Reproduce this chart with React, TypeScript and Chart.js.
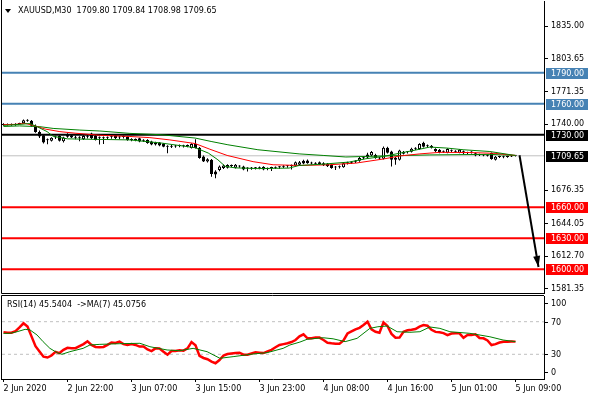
import React, { useEffect, useRef } from "react";
import { Chart, registerables } from "chart.js";

Chart.register(...registerables);

const FONT_FAMILY = '"DejaVu Sans", "Liberation Sans", sans-serif';

// ---------- DATA ----------
const headerText = "XAUUSD,M30  1709.80 1709.84 1708.98 1709.65";
const rsiHeaderText = "RSI(14) 45.5404  ->MA(7) 45.0756";

const timeLabels = ["2 Jun 2020", "2 Jun 22:00", "3 Jun 07:00", "3 Jun 15:00", "3 Jun 23:00", "4 Jun 08:00", "4 Jun 16:00", "5 Jun 01:00", "5 Jun 09:00"];
const timeTickBars = [0, 16, 32, 48, 64, 80, 96, 112, 128];

const priceTicks = [1835.0, 1803.65, 1771.35, 1740.0, 1676.35, 1644.05, 1612.7, 1581.35];

const levelValues = [1790, 1760, 1730, 1660, 1630, 1600];
const levelColors = ["#4682B4", "#4682B4", "#000000", "#FF0000", "#FF0000", "#FF0000"];
const currentPrice = 1709.65;

const openP = [
  1740.0, 1739.4, 1740.3, 1739.2, 1740.4, 1741.2, 1743.9, 1743.4, 1738.6, 1732.6,
  1729.6, 1724.6, 1724.3, 1727.3, 1729.0, 1723.6, 1730.6, 1729.6, 1727.4, 1727.2,
  1725.6, 1728.6, 1731.2, 1729.0, 1727.0, 1726.8, 1727.0, 1728.0, 1729.6, 1727.5,
  1728.0, 1728.0, 1725.0, 1725.4, 1726.6, 1724.5, 1725.0, 1723.5, 1722.5, 1722.5,
  1721.5, 1718.5, 1718.5, 1718.8, 1719.0, 1719.0, 1719.2, 1717.2, 1721.0, 1717.5,
  1709.0, 1704.2, 1705.8, 1694.5, 1696.0, 1697.8, 1698.0, 1700.0, 1698.0, 1699.5,
  1699.3, 1697.5, 1697.3, 1697.5, 1698.0, 1699.0, 1697.0, 1697.8, 1698.0, 1698.5,
  1699.0, 1699.5, 1700.0, 1700.3, 1701.0, 1704.8, 1705.0, 1702.5, 1702.0, 1703.5,
  1702.5, 1702.0, 1701.0, 1698.5, 1698.7, 1698.5, 1702.5, 1703.0, 1704.0, 1704.8,
  1707.5, 1711.0, 1710.0, 1710.5, 1707.0, 1706.8, 1717.4, 1713.8, 1707.7, 1705.8,
  1713.5, 1713.0, 1713.5, 1716.5, 1716.2, 1722.3, 1719.3, 1719.3, 1716.2, 1715.5,
  1713.5, 1712.6, 1714.5, 1713.8, 1712.6, 1714.0, 1712.5, 1713.0, 1712.0, 1710.5,
  1710.5, 1710.0, 1712.3, 1705.8, 1708.5, 1708.7, 1708.5, 1709.0, 1709.8
];
const highP = [
  1741.0, 1740.8, 1740.9, 1741.2, 1741.6, 1744.6, 1745.0, 1744.2, 1739.9, 1734.0,
  1730.2, 1726.4, 1727.6, 1728.9, 1729.6, 1728.1, 1731.4, 1730.4, 1728.9, 1728.6,
  1729.4, 1729.9, 1731.9, 1729.8, 1728.4, 1728.2, 1728.4, 1729.6, 1730.4, 1728.8,
  1729.2, 1728.6, 1726.6, 1726.4, 1727.2, 1725.6, 1725.6, 1724.2, 1723.2, 1723.0,
  1722.0, 1719.8, 1720.0, 1720.2, 1720.6, 1720.4, 1720.6, 1721.8, 1725.6, 1718.2,
  1710.0, 1707.4, 1706.6, 1695.6, 1700.2, 1701.2, 1701.6, 1701.2, 1701.8, 1700.6,
  1700.0, 1698.6, 1698.8, 1698.8, 1699.2, 1699.6, 1698.4, 1699.0, 1699.4, 1699.8,
  1700.4, 1700.8, 1701.2, 1704.2, 1704.6, 1705.8, 1706.0, 1704.0, 1703.4, 1704.2,
  1703.4, 1702.8, 1701.6, 1699.8, 1700.2, 1703.4, 1704.0, 1704.6, 1705.4, 1708.4,
  1709.0, 1712.6, 1714.2, 1711.6, 1708.6, 1718.6, 1718.4, 1714.6, 1708.6, 1715.6,
  1714.4, 1714.4, 1717.4, 1717.8, 1721.8, 1723.2, 1720.6, 1720.0, 1717.0, 1716.2,
  1714.8, 1717.0, 1715.8, 1715.0, 1716.2, 1714.8, 1713.6, 1714.0, 1712.8, 1711.6,
  1711.4, 1711.0, 1712.8, 1709.4, 1709.6, 1709.6, 1709.6, 1710.2, 1709.84
];
const lowP = [
  1738.6, 1738.9, 1738.7, 1738.8, 1739.8, 1740.8, 1742.6, 1737.8, 1731.8, 1726.9,
  1721.6, 1720.9, 1723.4, 1725.9, 1723.4, 1722.6, 1727.2, 1726.8, 1725.6, 1723.8,
  1724.9, 1726.4, 1725.8, 1724.4, 1720.6, 1721.0, 1725.4, 1726.2, 1725.8, 1725.6,
  1726.4, 1724.2, 1723.6, 1723.8, 1722.8, 1723.0, 1721.4, 1719.8, 1719.6, 1718.8,
  1717.8, 1712.2, 1717.2, 1717.4, 1717.8, 1717.6, 1718.0, 1716.6, 1716.6, 1706.8,
  1703.6, 1703.2, 1689.5, 1688.0, 1694.8, 1697.0, 1697.4, 1698.6, 1697.4, 1698.2,
  1695.8, 1694.5, 1696.2, 1696.4, 1696.6, 1695.8, 1695.8, 1695.0, 1696.8, 1697.2,
  1697.8, 1698.2, 1696.5, 1699.6, 1700.4, 1701.6, 1702.0, 1701.2, 1700.8, 1700.8,
  1699.8, 1698.8, 1697.2, 1696.0, 1697.4, 1698.0, 1701.2, 1701.8, 1702.8, 1704.0,
  1706.2, 1707.4, 1709.2, 1706.8, 1705.8, 1706.0, 1711.8, 1699.3, 1701.0, 1705.0,
  1710.8, 1711.8, 1712.8, 1715.2, 1715.6, 1717.6, 1717.8, 1716.6, 1713.2, 1712.2,
  1712.4, 1712.0, 1713.4, 1712.6, 1712.0, 1711.2, 1711.4, 1711.8, 1709.2, 1709.4,
  1709.2, 1709.0, 1705.8, 1705.2, 1707.6, 1707.4, 1707.8, 1708.4, 1708.98
];
const closeP = [
  1739.4, 1740.3, 1739.2, 1740.4, 1741.2, 1743.9, 1743.4, 1738.6, 1732.6, 1728.2,
  1722.6, 1725.0, 1727.1, 1727.9, 1724.1, 1727.4, 1728.0, 1727.4, 1727.2, 1727.6,
  1728.7, 1728.1, 1726.5, 1725.0, 1727.2, 1726.5, 1727.2, 1728.2, 1726.5, 1727.3,
  1727.8, 1725.0, 1725.4, 1725.0, 1723.5, 1724.2, 1722.0, 1720.5, 1720.5, 1719.5,
  1718.5, 1718.3, 1718.8, 1718.6, 1719.3, 1718.8, 1719.4, 1721.0, 1717.2, 1707.5,
  1704.2, 1706.2, 1692.0, 1691.5, 1699.3, 1700.3, 1700.8, 1699.8, 1701.0, 1699.3,
  1696.3, 1697.3, 1697.5, 1697.8, 1697.6, 1696.5, 1697.2, 1697.9, 1698.2, 1698.7,
  1699.3, 1699.7, 1699.9, 1703.3, 1703.5, 1702.2, 1702.5, 1702.3, 1702.2, 1701.5,
  1700.5, 1699.5, 1697.8, 1698.3, 1699.0, 1702.5, 1702.8, 1703.5, 1704.3, 1707.5,
  1707.3, 1708.0, 1713.3, 1707.5, 1707.2, 1717.5, 1712.6, 1705.8, 1705.8, 1714.8,
  1711.6, 1713.3, 1716.5, 1716.7, 1721.0, 1718.4, 1718.8, 1717.4, 1714.0, 1713.0,
  1713.6, 1716.2, 1714.7, 1713.5, 1715.5, 1712.0, 1712.3, 1712.8, 1710.0, 1710.3,
  1710.0, 1709.8, 1706.5, 1708.7, 1708.7, 1708.3, 1708.9, 1709.6, 1709.65
];

// moving averages on the price panel (bar position, value)
const maFastBars = [0, 4, 6.6, 8.4, 10.9, 12.4, 16, 31.6, 39.4, 47.9, 51.2, 53.6, 55.4, 57.9, 63.6, 71.4, 73.9, 79.9, 86.4, 90.6, 94.9, 103.4, 106.6, 110.9, 114.9, 121.6, 128];
const maFastVals = [1739.0, 1740.0, 1740.8, 1737.8, 1733.0, 1728.5, 1726.0, 1725.0, 1722.0, 1717.5, 1712.3, 1705.8, 1699.5, 1698.0, 1697.3, 1697.8, 1700.3, 1701.6, 1703.6, 1706.8, 1709.0, 1715.5, 1718.1, 1717.1, 1715.5, 1713.8, 1709.9];
const maMidBars = [0, 2.9, 5.4, 7.9, 10.4, 14.1, 17.9, 24.1, 31.6, 36.6, 41.6, 47.9, 51.6, 55.9, 62.4, 67.4, 74.1, 81.6, 88.1, 94.9, 99.1, 104.1, 109.1, 116.6, 122.9, 128];
const maMidVals = [1739.8, 1740.0, 1741.0, 1738.5, 1735.5, 1733.0, 1731.5, 1729.5, 1728.3, 1727.2, 1725.0, 1721.5, 1716.0, 1710.0, 1704.0, 1701.0, 1700.3, 1701.0, 1702.6, 1706.5, 1709.5, 1711.5, 1713.0, 1712.8, 1712.0, 1710.0];
const maSlowBars = [0, 4, 9.1, 12.4, 19.1, 24.1, 31.6, 39.4, 47.9, 51.9, 56.1, 63.6, 73.9, 79.9, 85.6, 94.9, 106.6, 121.6, 128];
const maSlowVals = [1738.0, 1738.5, 1737.8, 1736.1, 1734.5, 1733.6, 1731.3, 1730.0, 1726.8, 1723.5, 1720.3, 1715.5, 1711.5, 1710.0, 1708.5, 1709.5, 1710.5, 1711.0, 1710.0];

// forecast arrow
const arrowBars = [129, 133.75];
const arrowPrices = [1710.2, 1602.2];

// RSI panel
const rsiValues = [
  57, 56.5, 56.5, 58.5, 63, 68, 64, 52, 40, 33.5,
  27, 26, 28.5, 33, 31.5, 35.5, 38, 37.5, 37.5, 40,
  42.5, 46, 41.5, 39, 38.5, 39, 41.5, 44.5, 44, 45.5,
  42.5, 41.5, 42.5, 41.5, 39.5, 39.5, 36, 34, 37.3, 37,
  33.2, 29.5, 34, 34, 35, 34.5, 37.3, 45, 41, 28,
  25.5, 24, 21, 19, 23, 28.5, 30.4, 31, 31.5, 32,
  29.5, 29.5, 31, 32.4, 32, 31.5, 33.5, 35.5, 38.6, 41.5,
  42.5, 43.5, 45, 47.5, 52, 54.5, 49.6, 49.8, 50.5, 50.5,
  47.5, 44.2, 43.5, 43, 43, 47, 55.5, 58, 60.5, 62.5,
  66, 70, 60.5, 57.7, 56.5, 69.2, 64.7, 55, 50.3, 50.5,
  57.7, 59.5, 60, 61, 64, 65.9, 65, 60, 57.5, 57,
  56, 53.6, 55.5, 55.7, 55.7, 50.3, 53.6, 53.6, 54.5, 50,
  49.6, 47, 41.4, 42.5, 44.5, 45.5, 45.5, 45.8, 45.54
];
const rsiMaBars = [0, 1.6, 3.4, 5.4, 6.6, 8.4, 9.9, 11.6, 13.4, 14.6, 16.6, 19.9, 21.6, 24.1, 29.1, 34.1, 36.6, 40.9, 44.1, 47.4, 50.9, 54.1, 57.4, 62.4, 65.9, 69.9, 71.6, 74.1, 75.9, 79.9, 82.4, 85.4, 88.4, 91.6, 93.6, 95.9, 98.4, 101.6, 104.1, 106.6, 109.1, 111.6, 116.6, 121.6, 124.9, 128];
const rsiMaVals = [55.7, 55.7, 57.7, 60.6, 60, 53.6, 45.5, 37.3, 32, 30, 33.2, 37.3, 41.4, 42.2, 43, 43.5, 39.3, 35.3, 34.4, 37.3, 33.2, 25.1, 27.1, 30.4, 32, 37.3, 41.4, 45, 48.4, 50.3, 49, 45.5, 49.6, 61.8, 63.8, 64.7, 57.7, 57, 57.7, 63.5, 61.8, 57.7, 55.7, 51.5, 47.5, 45.5];
const rsiLevels = [70, 30];
const rsiTicks = [100, 70, 30, 0];

// ---------- helpers ----------
const X_MIN = -0.375;
const X_MAX = 135.125;
const PRICE_MIN = 1577.1;
const PRICE_MAX = 1859.2;
const RSI_MIN = -0.3;
const RSI_MAX = 101.5;

const pts = (bars: number[], vals: number[]) => bars.map((b, i) => ({ x: b, y: vals[i] }));

const noPadV = (s: any) => {
  s.paddingTop = 0;
  s.paddingBottom = 0;
};
const noPadH = (s: any) => {
  s.paddingLeft = 0;
  s.paddingRight = 0;
};

export default function App() {
  const mainRef = useRef<HTMLCanvasElement>(null);
  const rsiRef = useRef<HTMLCanvasElement>(null);

  useEffect(() => {
    document.body.style.margin = "0";
    const font = { family: FONT_FAMILY, size: 8 };
    const fontStr = `8px ${FONT_FAMILY}`;

    const headerPlugin = {
      id: "header",
      afterDraw(chart: any) {
        const ctx = chart.ctx;
        ctx.save();
        ctx.fillStyle = "#000";
        ctx.beginPath();
        ctx.moveTo(5, 9);
        ctx.lineTo(11, 9);
        ctx.lineTo(8, 13);
        ctx.closePath();
        ctx.fill();
        ctx.font = fontStr;
        ctx.textBaseline = "middle";
        ctx.textAlign = "left";
        ctx.fillText(headerText, 18, 11);
        ctx.restore();
      },
    };

    const framePlugin = {
      id: "frame",
      afterDraw(chart: any) {
        const { ctx, chartArea } = chart;
        ctx.save();
        ctx.strokeStyle = "#000";
        ctx.lineWidth = 1;
        ctx.beginPath();
        ctx.moveTo(chartArea.left - 0.5, 0);
        ctx.lineTo(chartArea.left - 0.5, chartArea.bottom + 0.5);
        ctx.lineTo(chartArea.right, chartArea.bottom + 0.5);
        ctx.stroke();
        ctx.restore();
      },
    };

    const levelLabelPlugin = {
      id: "levelLabels",
      afterDraw(chart: any) {
        const { ctx } = chart;
        const y = chart.scales.y;
        const x0 = chart.chartArea.right + 2;
        const boxes = levelValues.map((v, i) => ({ v, c: levelColors[i] }));
        boxes.push({ v: currentPrice, c: "#000000" });
        ctx.save();
        ctx.font = fontStr;
        ctx.textBaseline = "middle";
        ctx.textAlign = "left";
        boxes.forEach((b) => {
          const py = y.getPixelForValue(b.v);
          ctx.fillStyle = b.c;
          ctx.fillRect(x0, Math.round(py) - 5, 42, 11);
          ctx.fillStyle = "#fff";
          ctx.fillText(b.v.toFixed(2), x0 + 5, Math.round(py) + 0.5);
        });
        ctx.restore();
      },
    };

    const arrowHeadPlugin = {
      id: "arrowHead",
      afterDatasetsDraw(chart: any) {
        const idx = chart.data.datasets.findIndex((d: any) => d.label === "arrow");
        if (idx < 0) return;
        const meta = chart.getDatasetMeta(idx);
        const a = meta.data[0];
        const b = meta.data[1];
        const ang = Math.atan2(b.y - a.y, b.x - a.x);
        const len = 11;
        const half = 3.5;
        const bx = b.x - Math.cos(ang) * len;
        const by = b.y - Math.sin(ang) * len;
        const ctx = chart.ctx;
        ctx.save();
        ctx.fillStyle = "#000";
        ctx.beginPath();
        ctx.moveTo(b.x, b.y);
        ctx.lineTo(bx + Math.sin(ang) * half, by - Math.cos(ang) * half);
        ctx.lineTo(bx - Math.sin(ang) * half, by + Math.cos(ang) * half);
        ctx.closePath();
        ctx.fill();
        ctx.restore();
      },
    };

    const lineDs = (data: any[], color: string, width: number, order: number, extra: any = {}) => ({
      type: "line",
      data,
      borderColor: color,
      borderWidth: width,
      pointRadius: 0,
      tension: 0,
      fill: false,
      order,
      ...extra,
    });

    const mainDatasets: any[] = [];
    levelValues.forEach((v, i) => {
      mainDatasets.push(lineDs([{ x: X_MIN, y: v }, { x: X_MAX, y: v }], levelColors[i], 2, 30));
    });
    mainDatasets.push(lineDs([{ x: X_MIN, y: currentPrice }, { x: X_MAX, y: currentPrice }], "#C0C0C0", 1, 31));
    mainDatasets.push({
      type: "bar",
      data: highP.map((h, i) => ({ x: i, y: [lowP[i], h] })),
      backgroundColor: "#000",
      borderWidth: 0,
      barThickness: 1,
      grouped: false,
      inflateAmount: 0,
      minBarLength: 1,
      order: 20,
    });
    mainDatasets.push({
      type: "bar",
      data: openP.map((o, i) => ({ x: i, y: [o, closeP[i]] })),
      backgroundColor: openP.map((o, i) => (closeP[i] > o ? "#FFFFFF" : "#000000")),
      borderColor: "#000",
      borderWidth: 1,
      borderSkipped: false,
      barThickness: 3,
      grouped: false,
      inflateAmount: 0,
      minBarLength: 1,
      order: 19,
    });
    mainDatasets.push(lineDs(pts(maSlowBars, maSlowVals), "#008000", 1, 12));
    mainDatasets.push(lineDs(pts(maMidBars, maMidVals), "#FF0000", 1, 11));
    mainDatasets.push(lineDs(pts(maFastBars, maFastVals), "#008000", 1, 10));
    mainDatasets.push(lineDs(pts(arrowBars, arrowPrices), "#000000", 2, 1, { label: "arrow" }));

    const main = new Chart(mainRef.current as HTMLCanvasElement, {
      type: "line",
      data: { datasets: mainDatasets },
      options: {
        animation: false,
        responsive: false,
        devicePixelRatio: 1,
        events: [],
        layout: { padding: { left: 2, top: 1, right: 0, bottom: 2 } },
        plugins: { legend: { display: false }, tooltip: { enabled: false } },
        scales: {
          x: { type: "linear", min: X_MIN, max: X_MAX, display: false, offset: false, grid: { offset: false } },
          y: {
            type: "linear",
            position: "right",
            min: PRICE_MIN,
            max: PRICE_MAX,
            afterBuildTicks: (s: any) => {
              s.ticks = priceTicks.map((v) => ({ value: v }));
            },
            afterFit: (s: any) => {
              s.width = 46;
              noPadV(s);
            },
            ticks: {
              callback: (v: any) => Number(v).toFixed(2),
              color: "#000",
              font,
              padding: 3,
              autoSkip: false,
            },
            grid: { drawOnChartArea: false, drawTicks: true, tickLength: 4, color: "#000" },
            border: { display: true, color: "#000", width: 1 },
          },
        },
      } as any,
      plugins: [headerPlugin, framePlugin, levelLabelPlugin, arrowHeadPlugin],
    } as any);

    const rsiFramePlugin = {
      id: "rsiFrame",
      afterDraw(chart: any) {
        const { ctx, chartArea } = chart;
        const y = chart.scales.y;
        ctx.save();
        ctx.strokeStyle = "#000";
        ctx.lineWidth = 1;
        ctx.beginPath();
        ctx.moveTo(chartArea.right, chartArea.top - 0.5);
        ctx.lineTo(chartArea.left - 0.5, chartArea.top - 0.5);
        ctx.lineTo(chartArea.left - 0.5, chartArea.bottom + 1);
        ctx.stroke();
        // level labels, kept inside the panel like the terminal does
        ctx.font = fontStr;
        ctx.textBaseline = "middle";
        ctx.textAlign = "left";
        ctx.fillStyle = "#000";
        rsiTicks.forEach((v) => {
          let py = y.getPixelForValue(v);
          py = Math.min(Math.max(py, chartArea.top + 7), chartArea.bottom - 7);
          const ry = Math.round(py) + 0.5;
          ctx.beginPath();
          ctx.moveTo(chartArea.right, ry);
          ctx.lineTo(chartArea.right + 4, ry);
          ctx.stroke();
          ctx.fillText(String(v), chartArea.right + 7, ry);
        });
        ctx.fillText(rsiHeaderText, 7, 10);
        ctx.restore();
      },
    };

    const rsiDatasets: any[] = [];
    rsiLevels.forEach((v) => {
      rsiDatasets.push(lineDs([{ x: X_MIN, y: v }, { x: X_MAX, y: v }], "#C0C0C0", 1, 20, { borderDash: [3, 3] }));
    });
    rsiDatasets.push(lineDs(rsiValues.map((v, i) => ({ x: i, y: v })), "#FF0000", 2.5, 5));
    rsiDatasets.push(lineDs(pts(rsiMaBars, rsiMaVals), "#008000", 1, 4));

    const rsi = new Chart(rsiRef.current as HTMLCanvasElement, {
      type: "line",
      data: { datasets: rsiDatasets },
      options: {
        animation: false,
        responsive: false,
        devicePixelRatio: 1,
        events: [],
        layout: { padding: { left: 2, top: 1, right: 0, bottom: 0 } },
        plugins: { legend: { display: false }, tooltip: { enabled: false } },
        scales: {
          x: {
            type: "linear",
            position: "bottom",
            min: X_MIN,
            max: X_MAX,
            offset: false,
            afterBuildTicks: (s: any) => {
              s.ticks = timeTickBars.map((v) => ({ value: v }));
            },
            afterFit: (s: any) => {
              s.height = 21;
              noPadH(s);
            },
            ticks: {
              callback: (_v: any, i: number) => timeLabels[i],
              align: "start",
              autoSkip: false,
              maxRotation: 0,
              minRotation: 0,
              color: "#000",
              font,
              padding: 2,
            },
            grid: { drawOnChartArea: false, drawTicks: true, tickLength: 3, color: "#000", offset: false },
            border: { display: true, color: "#000", width: 1 },
          },
          y: {
            type: "linear",
            position: "right",
            min: RSI_MIN,
            max: RSI_MAX,
            afterFit: (s: any) => {
              s.width = 46;
              noPadV(s);
            },
            ticks: { display: false },
            grid: { drawOnChartArea: false, drawTicks: false },
            border: { display: true, color: "#000", width: 1 },
          },
        },
      } as any,
      plugins: [rsiFramePlugin],
    } as any);

    return () => {
      main.destroy();
      rsi.destroy();
    };
  }, []);

  return (
    <div style={{ position: "relative", width: 590, height: 400, background: "#fff", overflow: "hidden" }}>
      <canvas
        ref={mainRef}
        width={590}
        height={295}
        style={{ position: "absolute", left: 0, top: 0, width: 590, height: 295, display: "block" }}
      />
      <canvas
        ref={rsiRef}
        width={590}
        height={105}
        style={{ position: "absolute", left: 0, top: 295, width: 590, height: 105, display: "block" }}
      />
    </div>
  );
}
